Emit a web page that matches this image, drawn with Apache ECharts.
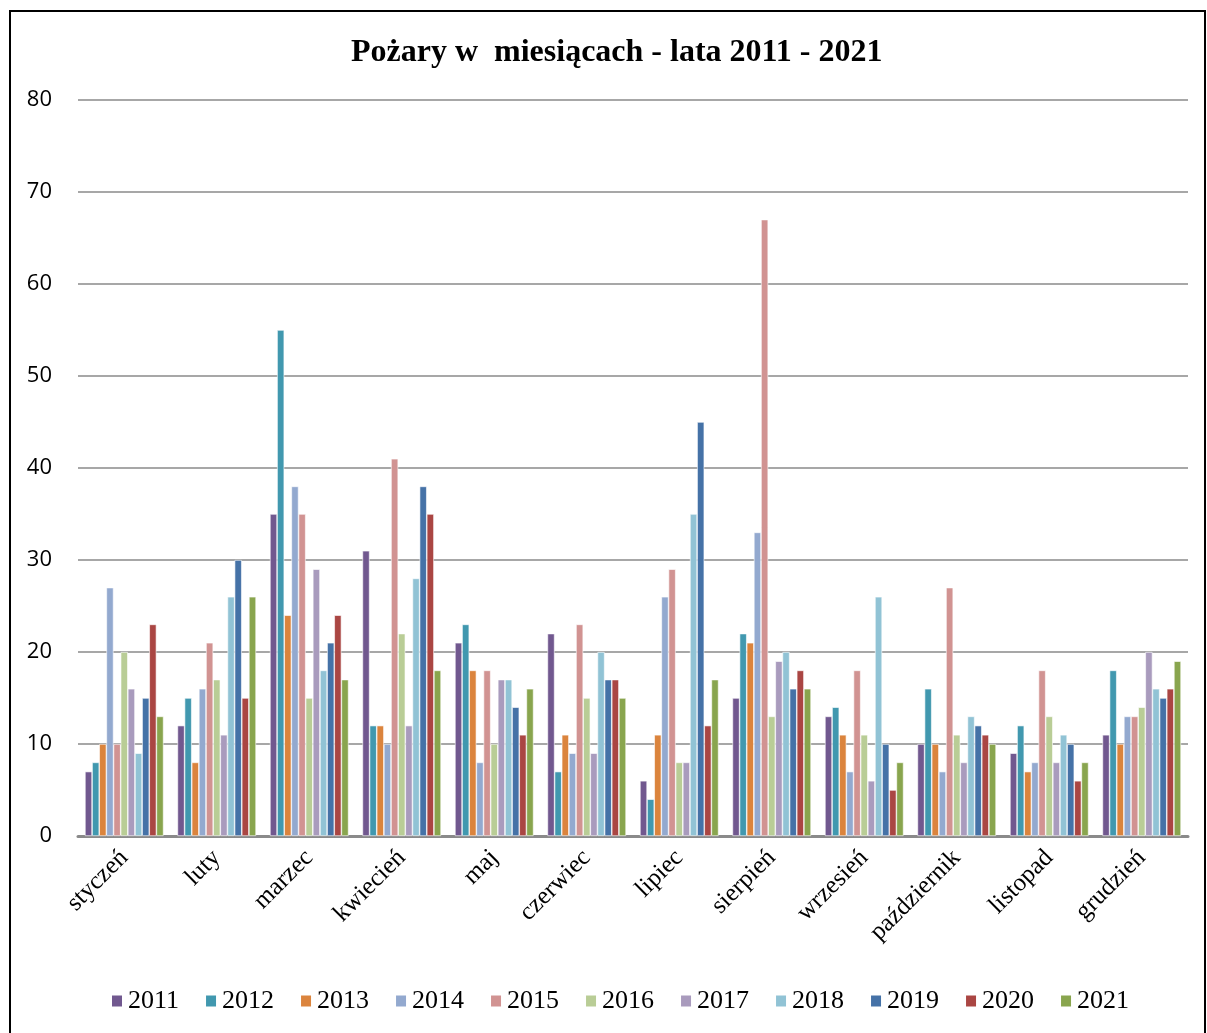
<!DOCTYPE html>
<html>
<head>
<meta charset="utf-8">
<script src="https://cdn.jsdelivr.net/npm/echarts@6/dist/echarts.min.js"></script>
<style>
    html, body { margin: 0; padding: 0; background: #fff; }
    #wrap { position: relative; width: 1207px; height: 1033px; overflow: hidden; }
    #chart { width: 1207px; height: 1033px; }
    #ramka { position: absolute; left: 9px; top: 10px; width: 1193px; height: 1040px; border: 2px solid #000; pointer-events: none; }
</style>
</head>
<body>
<div id="wrap">
    <div id="chart"></div>
    <div id="ramka"></div>
</div>
<script>
// miesiące
var months = ['styczeń', 'luty', 'marzec', 'kwiecień', 'maj', 'czerwiec', 'lipiec', 'sierpień', 'wrzesień', 'październik', 'listopad', 'grudzień'];
var years = ['2011', '2012', '2013', '2014', '2015', '2016', '2017', '2018', '2019', '2020', '2021'];
var yTicks = [0, 10, 20, 30, 40, 50, 60, 70, 80];

// liczba pożarów w kolejnych miesiącach, dla każdego roku
var y2011 = [7, 12, 35, 31, 21, 22, 6, 15, 13, 10, 9, 11];
var y2012 = [8, 15, 55, 12, 23, 7, 4, 22, 14, 16, 12, 18];
var y2013 = [10, 8, 24, 12, 18, 11, 11, 21, 11, 10, 7, 10];
var y2014 = [27, 16, 38, 10, 8, 9, 26, 33, 7, 7, 8, 13];
var y2015 = [10, 21, 35, 41, 18, 23, 29, 67, 18, 27, 18, 13];
var y2016 = [20, 17, 15, 22, 10, 15, 8, 13, 11, 11, 13, 14];
var y2017 = [16, 11, 29, 12, 17, 9, 8, 19, 6, 8, 8, 20];
var y2018 = [9, 26, 18, 28, 17, 20, 35, 20, 26, 13, 11, 16];
var y2019 = [15, 30, 21, 38, 14, 17, 45, 16, 10, 12, 10, 15];
var y2020 = [23, 15, 24, 35, 11, 17, 12, 18, 5, 11, 6, 16];
var y2021 = [13, 26, 17, 18, 16, 15, 17, 16, 8, 10, 8, 19];

var allData = [y2011, y2012, y2013, y2014, y2015, y2016, y2017, y2018, y2019, y2020, y2021];
var colors = ['#71588F', '#4198AF', '#DB843D', '#93A9CF', '#D19392', '#B9CD96', '#A99BBD', '#91C3D5', '#4572A7', '#AA4643', '#89A54E'];

var series = [];
for (var i = 0; i < years.length; i++) {
    series.push({
        name: years[i],
        type: 'bar',
        data: allData[i],
        barGap: '0%',
        barCategoryGap: '15%',
        itemStyle: { color: colors[i], borderColor: '#fff', borderWidth: 0.6 }
    });
}

var chart = echarts.init(document.getElementById('chart'));
var option = {
    animation: false,
    backgroundColor: '#fff',
    title: {
        text: 'Pożary w  miesiącach - lata 2011 - 2021',
        left: 346,
        top: 32,
        textStyle: { fontFamily: 'Liberation Serif', fontWeight: 'bold', fontSize: 32, color: '#000' }
    },
    legend: {
        top: 983,
        left: 105,
        itemWidth: 12,
        itemHeight: 13,
        itemGap: 25,
        icon: 'rect',
        textStyle: { fontFamily: 'Liberation Serif', fontSize: 26, color: '#000' },
        data: years
    },
    grid: { left: 78, right: 19, top: 100, bottom: 197, containLabel: false },
    xAxis: {
        type: 'category',
        data: months,
        axisLine: { lineStyle: { color: '#8a8a8a', width: 3 } },
        axisTick: { show: false },
        axisLabel: {
            rotate: 45,
            margin: 18,
            fontFamily: 'Liberation Serif',
            fontSize: 25,
            color: '#000'
        }
    },
    yAxis: {
        type: 'value',
        min: yTicks[0],
        max: yTicks[yTicks.length - 1],
        interval: 10,
        axisLine: { show: false },
        axisTick: { show: false },
        splitLine: { lineStyle: { color: '#8a8a8a', width: 1.5 } },
        axisLabel: {
            margin: 26,
            fontFamily: 'Open Sans',
            fontSize: 22,
            color: '#000'
        }
    },
    series: series
};
chart.setOption(option);
</script>
</body>
</html>
